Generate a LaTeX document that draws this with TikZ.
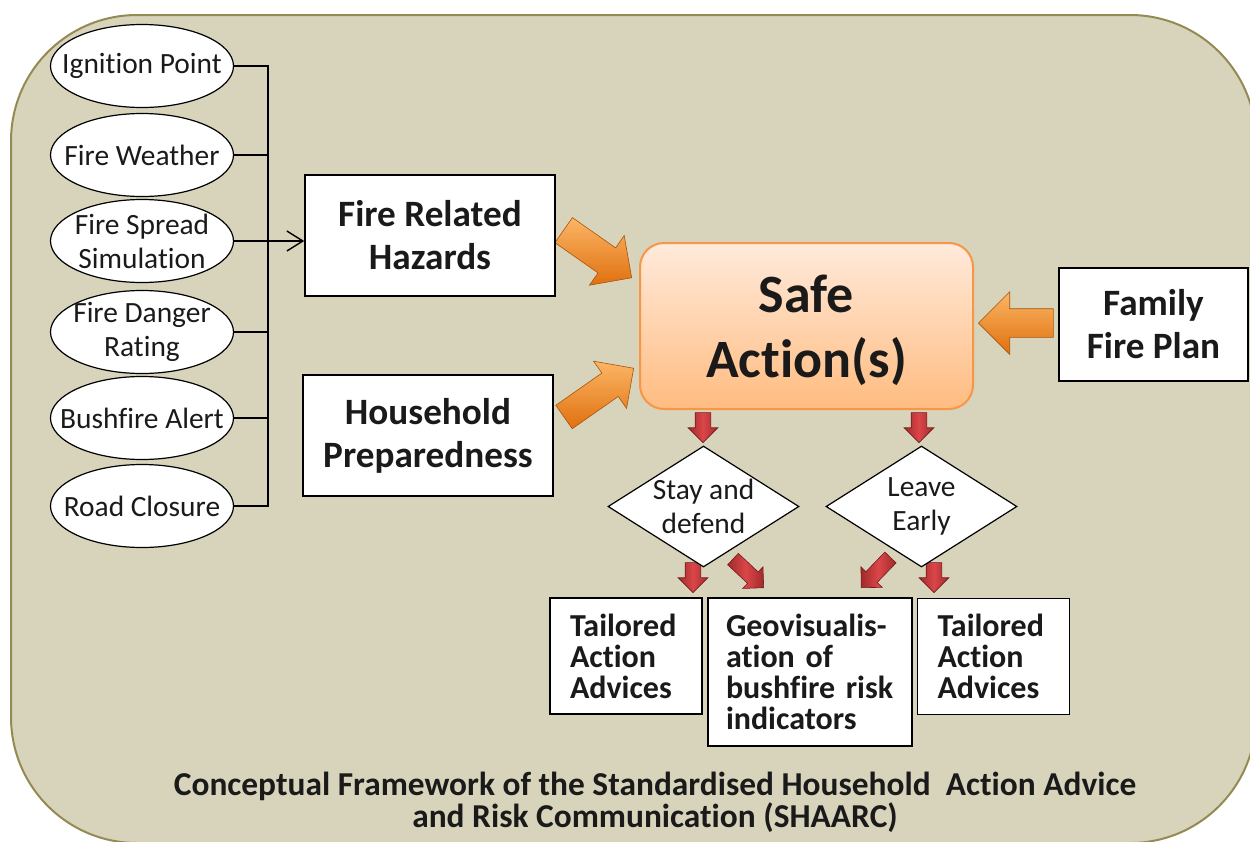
\documentclass[tikz,border=0pt]{standalone}
\usepackage{fontspec}
\setmainfont{Carlito}[Ligatures={NoCommon,NoContextual}, Contextuals=NoAlternate]
\usetikzlibrary{shapes.geometric,shapes.arrows,arrows.meta}

\definecolor{panel}{HTML}{D8D4BB}
\definecolor{panelrim}{HTML}{948A54}
\definecolor{safetop}{HTML}{FFEADB}
\definecolor{safebot}{HTML}{FFBC80}
\definecolor{saferim}{HTML}{F79646}
\definecolor{arrlite}{HTML}{FBB666}
\definecolor{arrdark}{HTML}{E0700F}
\definecolor{redlite}{HTML}{DB4649}
\definecolor{reddark}{HTML}{A02A2A}
\definecolor{ink}{HTML}{1A1A1A}

\tikzset{
  cue/.style={ellipse, draw, fill=white, line width=0.6pt, minimum width=91.5pt, minimum height=41.5pt,
    inner xsep=-15pt, inner ysep=-6pt, align=center, text=ink, font=\fontsize{14.7}{17}\selectfont},
  hazbox/.style={draw, fill=white, line width=0.8pt, minimum width=125pt, minimum height=60.5pt,
    inner sep=0pt, align=center, text=ink, font=\fontsize{18.6}{21.5}\selectfont\bfseries},
  safebox/.style={draw=saferim, line width=1pt, rounded corners=12pt, top color=safetop, bottom color=safebot,
    minimum width=166.5pt, minimum height=83pt, inner sep=0pt, align=center, text=ink, text depth=0pt,
    font=\fontsize{27}{32.5}\selectfont\bfseries},
  choice/.style={diamond, draw, fill=white, line width=0.6pt, minimum width=95.5pt, minimum height=60.5pt,
    inner sep=-10pt, align=center, text=ink, font=\fontsize{14.7}{17}\selectfont},
  advice/.style={draw, fill=white, line width=0.8pt, inner xsep=10pt, inner ysep=0pt, align=left,
    text=ink, font=\fontsize{16}{15.5}\selectfont\bfseries},
  orangearrow/.style={single arrow, draw=arrdark!75!black, line width=0.3pt, top color=arrlite,
    bottom color=arrdark, inner xsep=0pt, anchor=tip},
  redarrow/.style={single arrow, draw=reddark!70!black, line width=0.3pt, left color=reddark,
    right color=reddark, middle color=redlite, inner xsep=0pt, inner ysep=3.75pt, anchor=tip,
    minimum height=15pt, single arrow head extend=3.5pt},
}

\begin{document}
\begin{tikzpicture}[x=0.5pt, y=-0.5pt]
\useasboundingbox (0,0) rectangle (1250,842);
\clip (0,0) rectangle (1250,842);
\draw[panelrim, fill=panel, line width=1pt, rounded corners=63pt] (11,15) rectangle (1256,843);

% block arrows into and out of the safe action box
\node[orangearrow, minimum height=41.5pt, inner ysep=7.5pt, single arrow head extend=7.5pt, rotate=-35] (hazarrow) at (632,278) {};
\node[orangearrow, minimum height=42.5pt, inner ysep=7pt, single arrow head extend=7.25pt, rotate=35] (preparrow) at (634,368) {};
\node[orangearrow, minimum height=37.5pt, inner ysep=7pt, single arrow head extend=8.5pt, rotate=180] (planarrow) at (978,323) {};
\node[redarrow, rotate=-90] (stayin) at (703,443) {};
\node[redarrow, rotate=-90] (leavein) at (919,443) {};
\node[redarrow, rotate=-90] (stayout) at (693,593) {};
\node[redarrow, rotate=-43, minimum height=21pt] (staygeo) at (764,588) {};
\node[redarrow, rotate=-134, minimum height=21pt] (leavegeo) at (861,588) {};
\node[redarrow, rotate=-90] (leaveout) at (934,593) {};

% hazard inputs
\node[cue] (ign) at (142,66) {Ignition Point};
\node[cue] (wea) at (142,155) {Fire Weather};
\node[cue] (spr) at (142,241) {Fire Spread\\Simulation};
\node[cue] (dan) at (142,332) {Fire Danger\\Rating};
\node[cue] (ale) at (142,418) {Bushfire Alert};
\node[cue] (roa) at (142,506) {Road Closure};

\node[hazbox] (haz) at (430,235.5) {Fire Related\\Hazards};
\node[hazbox] (prep) at (428,435.5) {Household\\Preparedness};
\node[safebox] (safe) at (806.5,326) {Safe\\Action(s)};
\node[hazbox, minimum width=94.5pt, minimum height=56.5pt] (plan) at (1153.5,324.5) {Family\\Fire Plan};

\node[choice] (stay) at (703.5,506.5) {Stay and\\defend};
\node[choice] (leave) at (921.5,506.5) {Leave\\Early};

\node[advice, text width=56pt, minimum height=58pt] (tailA) at (626,656) {Tailored\\Action\\Advices};
\node[advice, text width=84pt, minimum height=74pt, inner xsep=9pt] (geo) at (810,672) {Geovisualis-\\ation of\\bushfire risk\\indicators};
\node[advice, text width=56pt, minimum height=58pt] (tailB) at (993.5,656.5) {Tailored\\Action\\Advices};

% bus from the inputs
\coordinate (bus) at (268,66);
\draw[line width=0.7pt] (ign.east) -- (ign.east -| bus) -- (roa.east -| bus) -- (roa.east);
\foreach \c in {wea,dan,ale} {\draw[line width=0.7pt] (\c.east) -- (\c.east -| bus);}
\draw[line width=0.7pt, -{Straight Barb[length=8pt,width=10pt]}] (spr.east) -- (spr.east -| haz.west);

\node[align=center, text=ink, font=\fontsize{16.7}{14.5}\selectfont\bfseries] (caption) at (655,802)
  {Conceptual Framework of the Standardised Household\ \ Action Advice\\and Risk Communication (SHAARC)};
\end{tikzpicture}
\end{document}
